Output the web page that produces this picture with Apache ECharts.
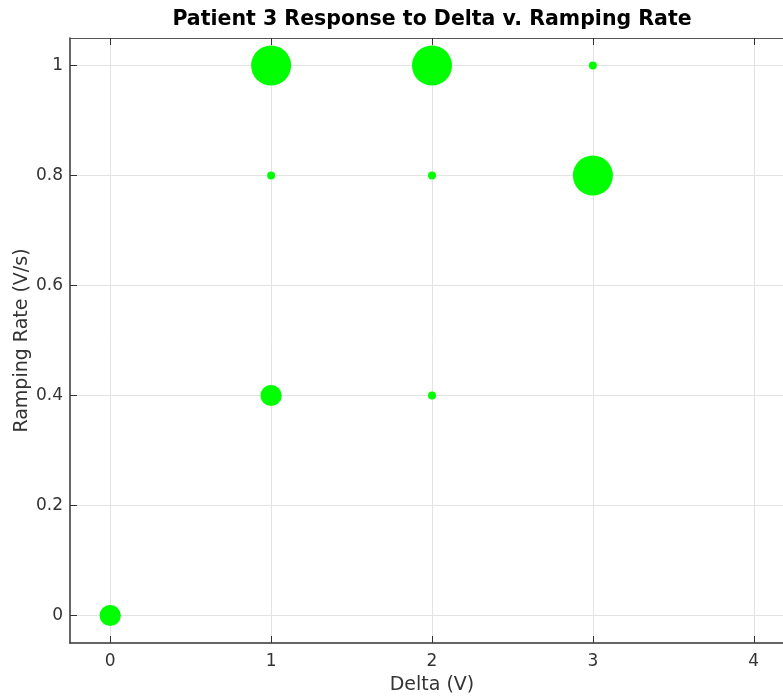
<!DOCTYPE html>
<html>
<head>
<meta charset="utf-8">
<script src="https://cdn.jsdelivr.net/npm/echarts@6/dist/echarts.min.js"></script>
<style>
html,body{margin:0;padding:0;background:#fff;}
#chart{width:783px;height:700px;}
</style>
</head>
<body>
<div id="chart"></div>
<script>
var deltas = [0, 1, 2, 1, 2, 3, 1, 2, 3];
var rampRates = [0, 0.4, 0.4, 0.8, 0.8, 0.8, 1, 1, 1];
var responses = [7, 7, 1, 1, 1, 25, 25, 25, 1];
var xTicks = [0, 1, 2, 3, 4];
var yTicks = [0, 0.2, 0.4, 0.6, 0.8, 1];

var points = deltas.map(function (d, i) { return [d, rampRates[i], responses[i]]; });

var font = 'DejaVu Sans';
var chart = echarts.init(document.getElementById('chart'));
chart.setOption({
  animation: false,
  title: {
    text: 'Patient 3 Response to Delta v. Ramping Rate',
    left: 427, top: 4, textAlign: 'center',
    textStyle: { fontFamily: font, fontWeight: 'bold', fontSize: 20.5, color: '#000' }
  },
  grid: { left: 70, top: 38, right: -11, bottom: 57, containLabel: false, outerBoundsMode: 'none' },
  xAxis: [{
    type: 'value', min: -0.25, max: 4.25,
    name: 'Delta (V)', nameLocation: 'middle', nameGap: 33, nameMoveOverlap: false,
    nameTextStyle: { fontFamily: font, fontSize: 19, color: '#333' },
    axisLine: { show: true, onZero: false, lineStyle: { color: '#333', width: 1.5 } },
    axisTick: { show: true, inside: true, length: 7, customValues: xTicks, lineStyle: { color: '#333' } },
    axisLabel: { customValues: xTicks, fontFamily: font, fontSize: 17, color: '#333', margin: 10 },
    splitLine: { show: true, lineStyle: { color: '#e3e3e3' } }
  }, {
    type: 'value', min: -0.25, max: 4.25, position: 'top',
    axisLine: { show: true, onZero: false, lineStyle: { color: '#555', width: 1.2 } },
    axisTick: { show: true, inside: true, length: 7, customValues: xTicks, lineStyle: { color: '#333' } },
    axisLabel: { show: false },
    splitLine: { show: false }
  }],
  yAxis: {
    type: 'value', min: -0.05, max: 1.05,
    name: 'Ramping Rate (V/s)', nameLocation: 'middle', nameGap: 38, nameMoveOverlap: false,
    nameTextStyle: { fontFamily: font, fontSize: 19, color: '#333' },
    axisLine: { show: true, onZero: false, lineStyle: { color: '#333', width: 1.5 } },
    axisTick: { show: true, inside: true, length: 7, customValues: yTicks, lineStyle: { color: '#333' } },
    axisLabel: { customValues: yTicks, fontFamily: font, fontSize: 17, color: '#333', margin: 7 },
    splitLine: { show: true, lineStyle: { color: '#e3e3e3' } }
  },
  series: [{
    type: 'scatter',
    data: points,
    symbol: 'circle',
    symbolSize: function (v) { return 8 * Math.sqrt(v[2]); },
    itemStyle: { color: '#00ff00', opacity: 1 }
  }]
});
</script>
</body>
</html>
